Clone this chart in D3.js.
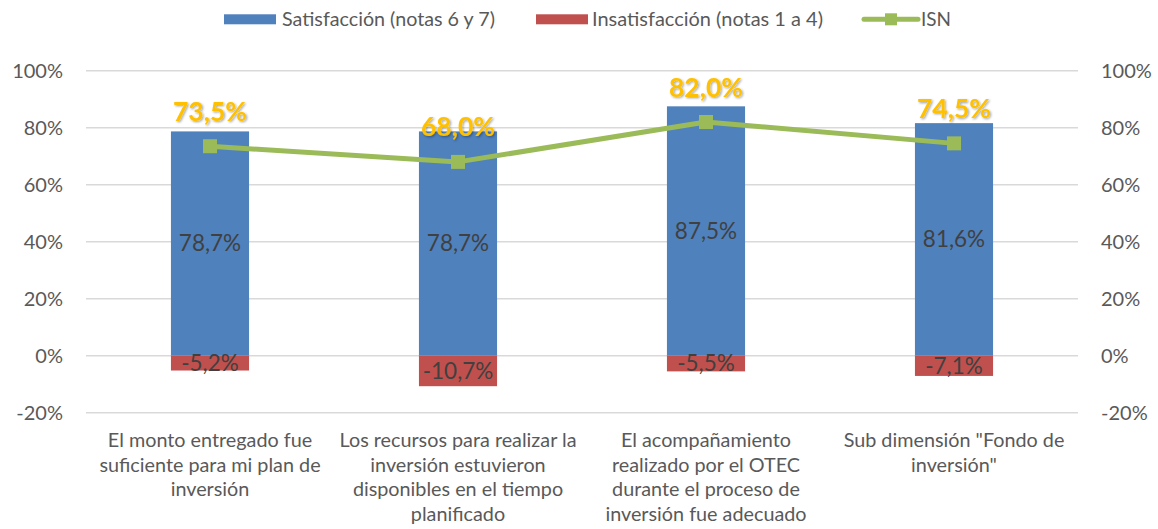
<!DOCTYPE html>
<html><head><meta charset="utf-8">
<script src="https://cdn.jsdelivr.net/npm/d3@7"></script>
<style>body{margin:0;background:#fff}svg{display:block}text{font-family:Lato,"Open Sans",sans-serif}</style>
</head><body>
<script>
const categories = [
  "El monto entregado fue\nsuficiente para mi plan de\ninversión",
  "Los recursos para realizar la\ninversión estuvieron\ndisponibles en el tiempo\nplanificado",
  "El acompañamiento\nrealizado por el OTEC\ndurante el proceso de\ninversión fue adecuado",
  "Sub dimensión \"Fondo de\ninversión\""
];
const satisfaccion = [78.7, 78.7, 87.5, 81.6];
const insatisfaccion = [-5.2, -10.7, -5.5, -7.1];
const isn = [73.5, 68.0, 82.0, 74.5];
const yTicks = [-20, 0, 20, 40, 60, 80, 100];
const seriesNames = ["Satisfacción (notas 6 y 7)", "Insatisfacción (notas 1 a 4)", "ISN"];

const W = 1158, H = 529;
const m = {left: 86, right: 1078, top: 70.7, bottom: 412.7};
const fmt = v => v.toFixed(1).replace(".", ",") + "%";
const C = {blue:"#4F81BD", red:"#C0504D", green:"#9BBB59", grid:"#D9D9D9", txt:"#595959", lab:"#404040", gold:"#FFC000"};

const svg = d3.select("body").append("svg").attr("width", W).attr("height", H);
const defs = svg.append("defs");
const f = defs.append("filter").attr("id","sh").attr("x","-20%").attr("y","-20%").attr("width","140%").attr("height","140%");
f.append("feDropShadow").attr("dx",1.2).attr("dy",1.2).attr("stdDeviation",0.8).attr("flood-color","#000").attr("flood-opacity",0.35);

const x = d3.scaleBand().domain(d3.range(categories.length)).range([m.left, m.right]).paddingInner(0.685).paddingOuter(0.3425);
const y = d3.scaleLinear().domain([-20, 100]).range([m.bottom, m.top]);

// gridlines
svg.append("g").selectAll("line").data(yTicks).join("line")
  .attr("x1", m.left).attr("x2", m.right)
  .attr("y1", d => y(d)).attr("y2", d => y(d))
  .attr("stroke", C.grid).attr("stroke-width", 1.5);

// axes
const tickFmt = d => d + "%";
const yl = svg.append("g").attr("transform", `translate(${m.left - 23},0)`)
  .call(d3.axisLeft(y).tickValues(yTicks).tickFormat(tickFmt).tickSize(0).tickPadding(0));
const yr = svg.append("g").attr("transform", `translate(${m.right + 23},0)`)
  .call(d3.axisRight(y).tickValues(yTicks).tickFormat(tickFmt).tickSize(0).tickPadding(0));
[yl, yr].forEach(g => {
  g.select(".domain").remove();
  g.selectAll("text").attr("fill", C.txt).style("font-size", "20px").attr("dy", "0.35em");
});

// bars
svg.append("g").selectAll("rect").data(satisfaccion).join("rect")
  .attr("x", (d,i) => x(i)).attr("width", x.bandwidth())
  .attr("y", d => y(d)).attr("height", d => y(0) - y(d)).attr("fill", C.blue);
svg.append("g").selectAll("rect").data(insatisfaccion).join("rect")
  .attr("x", (d,i) => x(i)).attr("width", x.bandwidth())
  .attr("y", y(0)).attr("height", d => y(d) - y(0)).attr("fill", C.red);

// bar labels
svg.append("g").selectAll("text").data(satisfaccion).join("text")
  .attr("x", (d,i) => x(i) + x.bandwidth()/2).attr("y", d => y(d/2))
  .attr("text-anchor","middle").attr("dy","0.35em").attr("fill", C.lab).style("font-size","22.5px")
  .text(fmt);
svg.append("g").selectAll("text").data(insatisfaccion).join("text")
  .attr("x", (d,i) => x(i) + x.bandwidth()/2).attr("y", d => y(d/2))
  .attr("text-anchor","middle").attr("dy","0.35em").attr("fill", C.lab).style("font-size","22.5px")
  .text(fmt);

// ISN line
const cx = i => x(i) + x.bandwidth()/2;
svg.append("path").datum(isn)
  .attr("d", d3.line().x((d,i) => cx(i)).y(d => y(d)))
  .attr("fill","none").attr("stroke", C.green).attr("stroke-width", 5).attr("stroke-linejoin","round");
svg.append("g").selectAll("rect").data(isn).join("rect")
  .attr("x", (d,i) => cx(i) - 7).attr("y", d => y(d) - 7).attr("width", 14).attr("height", 14)
  .attr("fill", C.green);
svg.append("g").selectAll("text").data(isn).join("text")
  .attr("x", (d,i) => cx(i)).attr("y", d => y(d) - 25.5)
  .attr("text-anchor","middle").attr("fill", C.gold).style("font-size","26.5px").style("font-weight","bold")
  .attr("filter","url(#sh)").text(fmt);

// category labels
categories.forEach((c, i) => {
  const t = svg.append("text").attr("x", cx(i)).attr("y", 447).attr("text-anchor","middle")
    .attr("fill", C.txt).style("font-size","19.8px");
  c.split("\n").forEach((ln, k) => t.append("tspan").attr("x", cx(i)).attr("dy", k ? 24.6 : 0).text(ln));
});

// legend
const lg = svg.append("g");
const items = [
  {name: seriesNames[0], x: 224, tx: 282, w: 213, type: "bar", color: C.blue},
  {name: seriesNames[1], x: 536, tx: 592, w: 231, type: "bar", color: C.red},
  {name: seriesNames[2], x: 864, tx: 921, w: 30, type: "line", color: C.green}
];
items.forEach(it => {
  if (it.type === "bar") {
    lg.append("rect").attr("x", it.x).attr("y", 14.3).attr("width", 52).attr("height", 10).attr("fill", it.color);
  } else {
    lg.append("line").attr("x1", it.x).attr("x2", it.x + 54).attr("y1", 19.3).attr("y2", 19.3)
      .attr("stroke", it.color).attr("stroke-width", 5).attr("stroke-linecap","round");
    lg.append("rect").attr("x", it.x + 21).attr("y", 13.3).attr("width", 12).attr("height", 12).attr("fill", it.color);
  }
  const t = lg.append("text").attr("x", it.tx).attr("y", 19.3).attr("dy","0.35em").attr("fill", C.txt)
    .style("font-size","20px").text(it.name);
  const nat = t.node().getComputedTextLength();
  if (nat > 0) t.attr("textLength", it.w).attr("lengthAdjust", "spacingAndGlyphs");
});
</script>
</body></html>
